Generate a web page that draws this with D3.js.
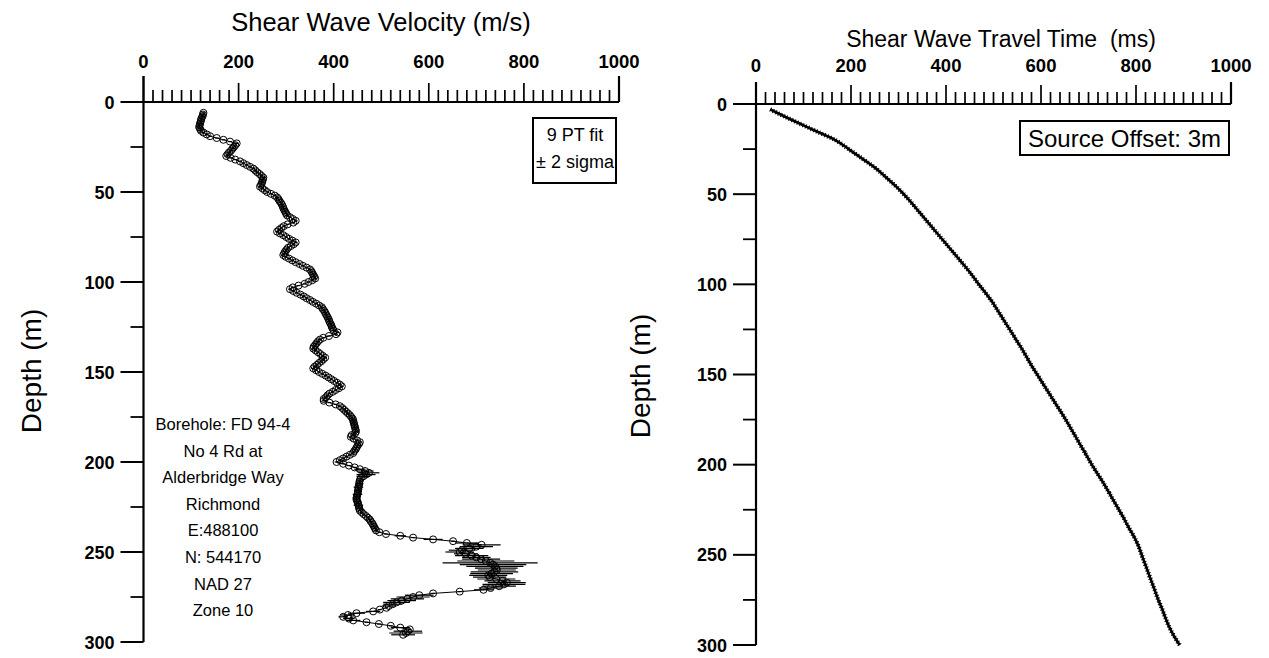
<!DOCTYPE html>
<html><head><meta charset="utf-8">
<script src="https://cdn.jsdelivr.net/npm/d3@7"></script>
<style>
html,body{margin:0;padding:0;background:#fff;}
svg{display:block;}
text{font-family:"Liberation Sans",Arial,Helvetica,sans-serif;fill:#000;white-space:pre;}
</style></head>
<body>
<svg id="chart" width="1269" height="658"></svg>
<script>
// ---------------- DATA ----------------
// Left panel: shear wave velocity (m/s) sampled every 1 m from 6 m to 296 m depth
const velocityStartDepth = 6;
const velocity = [
126,125,124,122,121,120,119,118,117,119,121,126,133,140,154,168,182,196,193,190,
187,184,180,177,174,183,193,203,210,217,224,231,235,239,244,248,252,251,250,249,
247,245,250,255,260,268,276,281,284,286,289,291,293,294,296,298,300,302,308,314,
320,315,303,295,290,285,281,287,294,300,306,313,320,316,310,304,301,298,296,294,
299,306,313,320,328,335,343,350,353,355,357,359,361,355,347,339,326,314,308,315,
322,330,337,343,350,356,363,369,375,377,380,382,384,386,388,390,391,393,395,396,
398,400,408,405,390,378,371,367,364,361,358,357,362,367,372,377,382,378,374,369,
365,360,357,363,369,376,383,389,395,401,407,413,417,411,404,398,391,387,384,379,
379,391,404,413,418,422,426,430,434,437,440,441,442,443,444,445,446,447,445,438,
436,442,449,455,453,450,448,446,443,441,434,427,420,413,406,420,432,444,455,466,
474,468,462,457,455,454,454,453,452,452,451,451,450,449,448,448,450,451,452,453,
454,455,459,463,468,472,476,478,481,483,485,487,489,496,510,540,567,609,651,680,
711,700,685,670,665,678,690,700,710,720,729,735,739,742,743,738,732,725,728,742,
755,764,758,748,730,715,665,609,580,567,555,543,532,524,516,511,497,483,448,430,
420,432,441,469,495,520,540,560,556,552,546
];
// visible +/- 2 sigma error bars (depth m, half-width m/s); others are hidden inside the markers
const errDepth = [204,205,206,207,208,212,214,216,218,220,222,224,226,236,241,243,245,246,247,248,249,250,251,252,253,254,255,256,257,258,259,260,261,262,263,264,265,266,267,268,269,270,271,274,275,276,277,278,279,280,283,284,285,286,287,288,292,294,295,296];
const errHalf  = [12,18,22,20,14,8,10,8,10,8,8,10,8,8,12,20,25,40,35,30,28,30,25,35,30,40,60,100,70,60,45,40,50,45,40,35,40,38,40,45,35,25,20,30,35,35,30,28,20,15,15,18,15,10,12,15,20,30,35,25];
const defaultErr = 4;

// Right panel: shear wave travel time (ms) vs depth (m)
const ttDepth = [3,5,10,15,20,25,30,35,40,45,50,55,60,65,70,75,80,85,90,95,100,105,110,115,120,125,130,135,140,145,150,155,160,165,170,175,180,185,190,195,200,205,210,215,220,225,230,235,240,245,250,255,260,265,270,275,280,285,290,295,300];
const ttTime  = [30,45,85,126,167,195,222,249,271,292,311,328,344,360,376,392,408,424,440,455,469,484,498,510,522,534,546,558,569,580,592,604,616,628,640,652,663,674,685,696,707,719,731,742,753,764,775,785,796,805,812,819,826,833,840,847,855,862,870,880,892];

// Axes
const xTicks = [0,200,400,600,800,1000];
const depthTicks = [0,50,100,150,200,250,300];
const leftTitle = "Shear Wave Velocity (m/s)";
const rightTitle = "Shear Wave Travel Time  (ms)";
const yTitle = "Depth (m)";
const fitLegend = ["9 PT fit","\u00B1 2 sigma"];
const offsetLegend = "Source Offset: 3m";
const boreholeNote = ["Borehole: FD 94-4","No 4 Rd at","Alderbridge Way","Richmond","E:488100","N: 544170","NAD 27","Zone 10"];

// ---------------- DRAW ----------------
const svg = d3.select("#chart");

function panel(cfg){
  const g = svg.append("g");
  const x = d3.scaleLinear().domain([0,1000]).range([cfg.x0,cfg.x1]);
  const y = d3.scaleLinear().domain([0,300]).range([cfg.y0,cfg.y1]);
  const minorX = d3.range(0,1001,20);
  g.append("line").attr("x1",cfg.x0-cfg.yMajor).attr("x2",cfg.x1).attr("y1",cfg.y0).attr("y2",cfg.y0)
    .attr("stroke","#000").attr("stroke-width",2.2);
  g.append("line").attr("x1",cfg.x0).attr("x2",cfg.x0).attr("y1",cfg.y0-cfg.xEnd).attr("y2",cfg.y1)
    .attr("stroke","#000").attr("stroke-width",2.2);
  g.selectAll(".xt").data(minorX).enter().append("line")
    .attr("x1",d=>x(d)).attr("x2",d=>x(d))
    .attr("y1",cfg.y0)
    .attr("y2",d=> cfg.y0 - (d===0||d===1000 ? cfg.xEnd : (d%200===0 ? cfg.xMajor : cfg.xMinor)))
    .attr("stroke","#000").attr("stroke-width",d=> d===1000?2.2:1.7);
  g.selectAll(".xl").data(xTicks).enter().append("text")
    .attr("x",d=>x(d)).attr("y",cfg.xLabelY)
    .attr("text-anchor","middle").attr("font-size",18.5).attr("font-weight","bold")
    .text(d=>d);
  const yMinor = d3.range(25,301,50);
  g.selectAll(".ym").data(yMinor).enter().append("line")
    .attr("x1",cfg.x0-cfg.yMinor).attr("x2",cfg.x0).attr("y1",d=>y(d)).attr("y2",d=>y(d))
    .attr("stroke","#000").attr("stroke-width",1.8);
  g.selectAll(".yM").data(depthTicks.slice(1)).enter().append("line")
    .attr("x1",cfg.x0-cfg.yMajor).attr("x2",cfg.x0).attr("y1",d=>y(d)).attr("y2",d=>y(d))
    .attr("stroke","#000").attr("stroke-width",2);
  g.selectAll(".yl").data(depthTicks).enter().append("text")
    .attr("x",cfg.x0-cfg.yMajor-6).attr("y",d=>y(d)+6.5)
    .attr("text-anchor","end").attr("font-size",18).attr("font-weight","bold")
    .text(d=>d);
  g.append("text").attr("x",cfg.titleX).attr("y",cfg.titleY).attr("text-anchor","middle")
    .attr("font-size",cfg.titleSize).text(cfg.title);
  g.append("text").attr("transform",`translate(${cfg.yTitleX},${cfg.yTitleY}) rotate(-90)`)
    .attr("text-anchor","middle").attr("font-size",28).text(yTitle);
  return {g,x,y};
}

// Left panel
const L = panel({x0:143.5,x1:619,y0:102,y1:642,xMinor:12,xMajor:19,xEnd:26,yMinor:13,yMajor:23,
  xLabelY:68,title:leftTitle,titleSize:25.5,titleX:381,titleY:31,yTitleX:41,yTitleY:371});

const vData = velocity.map((v,i)=>({d:velocityStartDepth+i, v:v}));
const errMap = new Map(errDepth.map((d,i)=>[d,errHalf[i]]));

L.g.selectAll(".eb").data(vData).enter().append("line")
  .attr("x1",p=>L.x(p.v-(errMap.get(p.d)||defaultErr)))
  .attr("x2",p=>L.x(p.v+(errMap.get(p.d)||defaultErr)))
  .attr("y1",p=>L.y(p.d)).attr("y2",p=>L.y(p.d))
  .attr("stroke","#000").attr("stroke-width",1.2);
L.g.append("path").datum(vData)
  .attr("d",d3.line().x(p=>L.x(p.v)).y(p=>L.y(p.d)))
  .attr("fill","none").attr("stroke","#000").attr("stroke-width",1);
L.g.selectAll(".pt").data(vData).enter().append("circle")
  .attr("cx",p=>L.x(p.v)).attr("cy",p=>L.y(p.d)).attr("r",3.5)
  .attr("fill","none").attr("stroke","#000").attr("stroke-width",1);

const lb = L.g.append("g");
lb.append("rect").attr("x",533).attr("y",118).attr("width",83).attr("height",65)
  .attr("fill","#fff").attr("stroke","#000").attr("stroke-width",2);
lb.selectAll("text").data(fitLegend).enter().append("text")
  .attr("x",575).attr("y",(d,i)=>141+i*27).attr("text-anchor","middle").attr("font-size",18).text(d=>d);

L.g.selectAll(".bh").data(boreholeNote).enter().append("text")
  .attr("x",223).attr("y",(d,i)=>430+i*26.6).attr("text-anchor","middle").attr("font-size",16.5).text(d=>d);

// Right panel
const R = panel({x0:756,x1:1231,y0:104,y1:645,xMinor:12,xMajor:19,xEnd:22,yMinor:13,yMajor:23,
  xLabelY:72,title:rightTitle,titleSize:23,titleX:1001,titleY:47,yTitleX:650,yTitleY:376});

const tData = ttDepth.map((d,i)=>({d:d,t:ttTime[i]}));
const tLine = d3.line().x(p=>R.x(p.t)).y(p=>R.y(p.d)).curve(d3.curveMonotoneY);
R.g.append("path").datum(tData).attr("d",tLine)
  .attr("fill","none").attr("stroke","#000").attr("stroke-width",2.6);
R.g.append("path").datum(tData).attr("d",tLine)
  .attr("fill","none").attr("stroke","#000").attr("stroke-width",4.5).attr("stroke-dasharray","1 2");

const rb = R.g.append("g");
rb.append("rect").attr("x",1020).attr("y",121).attr("width",209).attr("height",34)
  .attr("fill","#fff").attr("stroke","#000").attr("stroke-width",2);
rb.append("text").attr("x",1124.5).attr("y",146.5).attr("text-anchor","middle").attr("font-size",24).text(offsetLegend);
</script>
</body></html>
